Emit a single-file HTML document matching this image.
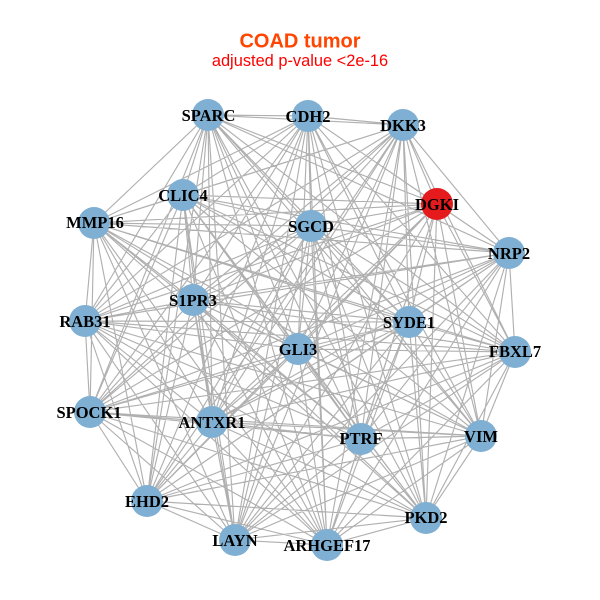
<!DOCTYPE html>
<html><head><meta charset="utf-8"><style>
html,body{margin:0;padding:0;background:#fff}
svg{display:block}
.l{font:bold 16.5px "Liberation Serif",serif;fill:#000;text-anchor:middle}
</style></head><body>
<svg id="s" xmlns="http://www.w3.org/2000/svg" width="600" height="600" viewBox="0 0 600 600">
<rect width="600" height="600" fill="#fff"/>
<g id="e" stroke="#b0b0b0" stroke-width="1.15" fill="none"></g>
<g id="n" fill="#7fb0d3"></g>
<g id="t">
<text x="300" y="47.5" text-anchor="middle" style="font:bold 20px 'Liberation Sans',sans-serif" fill="#ff4500">COAD tumor</text>
<text x="300" y="66" text-anchor="middle" style="font:16.4px 'Liberation Sans',sans-serif" fill="#ff0000">adjusted p-value &lt;2e-16</text>
<text class="l" x="208.5" y="121">SPARC</text>
<text class="l" x="308" y="122">CDH2</text>
<text class="l" x="403" y="131">DKK3</text>
<text class="l" x="437" y="210">DGKI</text>
<text class="l" x="509" y="259">NRP2</text>
<text class="l" x="311" y="232">SGCD</text>
<text class="l" x="183" y="201">CLIC4</text>
<text class="l" x="95" y="228">MMP16</text>
<text class="l" x="193" y="306">S1PR3</text>
<text class="l" x="85" y="327">RAB31</text>
<text class="l" x="89" y="418">SPOCK1</text>
<text class="l" x="212" y="428">ANTXR1</text>
<text class="l" x="147" y="507">EHD2</text>
<text class="l" x="235" y="546">LAYN</text>
<text class="l" x="327" y="551">ARHGEF17</text>
<text class="l" x="426" y="523">PKD2</text>
<text class="l" x="361" y="444">PTRF</text>
<text class="l" x="481" y="442">VIM</text>
<text class="l" x="515" y="357">FBXL7</text>
<text class="l" x="409" y="328">SYDE1</text>
<text class="l" x="298" y="355">GLI3</text>
</g>
</svg>
<script>
var P=[[208,115],[308,116],[403,125],[437,204],[509,253],[311,226],[183,195],[94,223],[193,300],[85,321],[90,412],[212,422],[147,501],[235,540],[327,545],[426,518],[361,439],[481,436],[515,352],[409,322],[298,349]];
var d="",c="",i,j;
for(i=0;i<P.length;i++){for(j=i+1;j<P.length;j++){d+="M"+P[i][0]+" "+P[i][1]+"L"+P[j][0]+" "+P[j][1];}
c+='<circle cx="'+P[i][0]+'" cy="'+P[i][1]+'" r="16"'+(i==3?' fill="#e41a1c"':'')+'/>';}
document.getElementById("e").innerHTML='<path d="'+d+'"/>';
document.getElementById("n").innerHTML=c;
</script>
</body></html>
